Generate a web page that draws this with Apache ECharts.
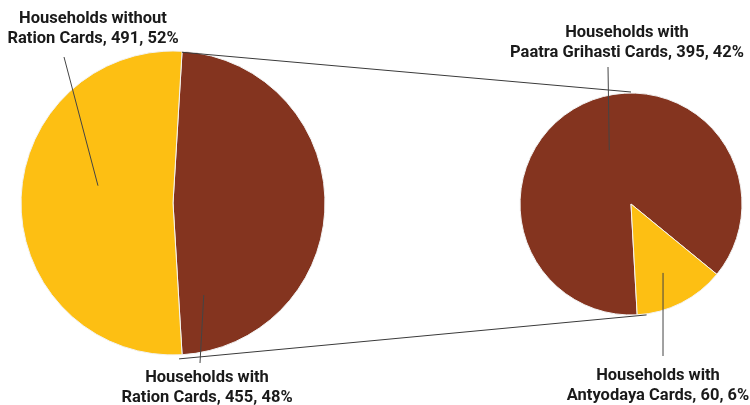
<!DOCTYPE html>
<html>
<head>
<meta charset="utf-8">
<script src="https://cdn.jsdelivr.net/npm/echarts@6/dist/echarts.min.js"></script>
<style>html,body{margin:0;padding:0;background:#fff}#c{width:750px;height:405px}</style>
</head>
<body>
<div id="c"></div>
<script>
// ---- data ----
const mainNames = ['Households with\nRation Cards', 'Households without\nRation Cards'];
const mainValues = [455, 491];
const subNames = ['Households with\nPaatra Grihasti Cards', 'Households with\nAntyodaya Cards'];
const subValues = [395, 60];
const colors = ['#84341f', '#fdbf13'];
const subColors = ['#84341f', '#fdbf13'];

// ---- layout ----
const LC = [173, 203], LR = 152;
const RC = [631, 204], RR = 111;
const total = mainValues.reduce((a, b) => a + b, 0);
const subTotal = subValues.reduce((a, b) => a + b, 0);
const brownAng = mainValues[0] / total * 360;
const leftStart = 90 - (180 - brownAng) / 2;
const rightStart = 273.2;

function pt(c, r, deg) {
  const a = deg * Math.PI / 180;
  return [c[0] + r * Math.cos(a), c[1] - r * Math.sin(a)];
}
const fmt = p => p.name + ', ' + p.value + ', ' + Math.round(p.value / total * 100) + '%';

const leftLabelPos = [[207, 388], [93, 29]];
const rightLabelPos = [[627, 43], [658, 386]];

const chart = echarts.init(document.getElementById('c'), null, {renderer: 'canvas'});

// connection lines between pies
const topA = pt(LC, LR - 1, leftStart), botA = pt(LC, LR + 4, leftStart - brownAng - 1.2);
const topB = pt(RC, RR + 1, 90), botB = pt(RC, RR + 1, -82);
// leader lines
const leftMidYellow = leftStart - brownAng - (360 - brownAng) / 2;
const subYAng = subValues[1] / subTotal * 360;
const leaders = [
  [pt(LC, 77, leftMidYellow - 13), [64, 57]],
  [pt(LC, 97, -71.5), [200, 363]],
  [pt(RC, 58, 112), [608, 67]],
  [pt(RC, 76, rightStart + subYAng / 2 - 2), [663, 356]]
];
const graphics = [];
[[topA, topB], [botA, botB]].forEach(([a, b]) => {
  graphics.push({type: 'line', z: 10, shape: {x1: a[0], y1: a[1], x2: b[0], y2: b[1]},
    style: {stroke: '#3a3a3a', lineWidth: 1}});
});
leaders.forEach(([a, b]) => {
  graphics.push({type: 'line', z: 10, shape: {x1: a[0], y1: a[1], x2: b[0], y2: b[1]},
    style: {stroke: '#444', lineWidth: 1}});
});

const labelStyle = {
  show: true, formatter: fmt, fontFamily: 'Roboto', fontWeight: 'bold', fontSize: 16.5,
  color: '#1a1a1a', lineHeight: 20, align: 'center', overflow: 'none', width: 400
};

chart.setOption({
  animation: false,
  series: [
    {
      type: 'pie', center: LC, radius: LR, startAngle: leftStart, clockwise: true,
      avoidLabelOverlap: false, silent: true,
      itemStyle: {borderColor: '#f2f2f2', borderWidth: 1},
      label: labelStyle, labelLine: {show: false},
      labelLayout: p => ({x: leftLabelPos[p.dataIndex][0], y: leftLabelPos[p.dataIndex][1], align: 'center', verticalAlign: 'middle'}),
      data: mainNames.map((n, i) => ({name: n, value: mainValues[i], itemStyle: {color: colors[i]}}))
    },
    {
      type: 'pie', center: RC, radius: RR, startAngle: rightStart, clockwise: true,
      avoidLabelOverlap: false, silent: true,
      itemStyle: {borderColor: '#f2f2f2', borderWidth: 1},
      label: labelStyle, labelLine: {show: false},
      labelLayout: p => ({x: rightLabelPos[p.dataIndex][0], y: rightLabelPos[p.dataIndex][1], align: 'center', verticalAlign: 'middle'}),
      data: subNames.map((n, i) => ({name: n, value: subValues[i], itemStyle: {color: subColors[i]}}))
    }
  ],
  graphic: graphics
});
</script>
</body>
</html>
